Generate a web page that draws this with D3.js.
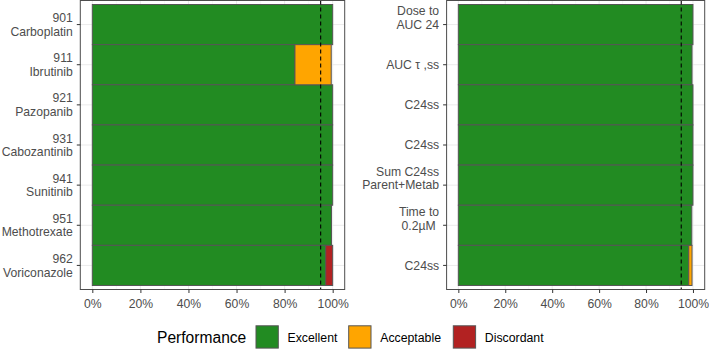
<!DOCTYPE html>
<html>
<head>
<meta charset="utf-8">
<script src="https://cdn.jsdelivr.net/npm/d3@7"></script>
<style>
  body { margin: 0; background: #fff; }
  svg { display: block; font-family: "Liberation Sans", Arial, sans-serif; }
</style>
</head>
<body>
<svg id="chart"></svg>
<script>
const width = 709, height = 349;

// Categories (tick labels, top to bottom)
const leftLabels = ["901\nCarboplatin", "911\nIbrutinib", "921\nPazopanib", "931\nCabozantinib",
                    "941\nSunitinib", "951\nMethotrexate", "962\nVoriconazole"];
const rightLabels = ["Dose to\nAUC 24\n", "AUC \u03c4 ,ss", "C24ss", "C24ss",
                     "Sum C24ss\nParent+Metab\n", "Time to\n0.2\u00b5M \n", "C24ss"];

// Percent of cases in each performance class
const leftExcellent  = [100, 84.3, 100, 100, 100, 99.5, 97.1];
const leftAcceptable = [0, 15.1, 0, 0, 0, 0, 0];
const leftDiscordant = [0, 0, 0, 0, 0, 0, 2.9];

const rightExcellent  = [100, 99.6, 100, 100, 100, 99.5, 98.2];
const rightAcceptable = [0, 0, 0, 0, 0, 0, 1.4];
const rightDiscordant = [0, 0, 0, 0, 0, 0, 0];

const performance = ["Excellent", "Acceptable", "Discordant"];
const perfColors = ["#228B22", "#FFA500", "#B22222"];
const xTicks = [0, 20, 40, 60, 80, 100];
const threshold = 95;

const svg = d3.select("#chart")
    .attr("width", width)
    .attr("height", height)
    .attr("viewBox", [0, 0, width, height]);

const color = d3.scaleOrdinal().domain(performance).range(perfColors);

function drawPanel(labels, excellent, acceptable, discordant, x0, x1) {
    const rows = labels.map((lab, i) => ({
        idx: i, Excellent: excellent[i], Acceptable: acceptable[i], Discordant: discordant[i]
    }));
    const stacked = d3.stack().keys(performance)(rows);

    const x = d3.scaleLinear().domain([-5, 105]).range([x0, x1]);
    const y = d3.scaleBand().domain(d3.range(labels.length))
        .range([0.5, 289.5]).paddingInner(0).paddingOuter(0.1);

    const g = svg.append("g");

    // panel background + grid
    g.append("rect").attr("x", x0).attr("y", 0.5).attr("width", x1 - x0).attr("height", 289)
        .attr("fill", "#fff");
    g.append("g").selectAll("line")
        .data(d3.range(10, 100, 20))
        .join("line")
        .attr("x1", d => x(d)).attr("x2", d => x(d))
        .attr("y1", 0.5).attr("y2", 289.5)
        .attr("stroke", "#f3f3f3").attr("stroke-width", 0.6);
    g.append("g").selectAll("line")
        .data(xTicks)
        .join("line")
        .attr("x1", d => x(d)).attr("x2", d => x(d))
        .attr("y1", 0.5).attr("y2", 289.5)
        .attr("stroke", "#ebebeb").attr("stroke-width", 1);
    g.append("g").selectAll("line")
        .data(d3.range(labels.length))
        .join("line")
        .attr("x1", x0).attr("x2", x1)
        .attr("y1", d => y(d) + y.bandwidth() / 2).attr("y2", d => y(d) + y.bandwidth() / 2)
        .attr("stroke", "#ebebeb").attr("stroke-width", 1);

    // stacked bars
    g.append("g").selectAll("g")
        .data(stacked)
        .join("g")
        .attr("fill", d => color(d.key))
        .selectAll("rect")
        .data(d => d.filter(s => s[1] - s[0] > 0))
        .join("rect")
        .attr("x", d => x(d[0]))
        .attr("width", d => x(d[1]) - x(d[0]))
        .attr("y", d => y(d.data.idx))
        .attr("height", y.bandwidth())
        .attr("stroke", "#555")
        .attr("stroke-width", 1);

    // 95% threshold
    g.append("line")
        .attr("x1", x(threshold)).attr("x2", x(threshold))
        .attr("y1", 0.5).attr("y2", 289.5)
        .attr("stroke", "#000").attr("stroke-width", 1.1)
        .attr("stroke-dasharray", "4,3");

    // panel border
    g.append("rect").attr("x", x0).attr("y", 0.5).attr("width", x1 - x0).attr("height", 289)
        .attr("fill", "none").attr("stroke", "#4d4d4d").attr("stroke-width", 1);

    // x axis
    const xAxis = g.append("g")
        .attr("transform", "translate(0,289.5)")
        .call(d3.axisBottom(x).tickValues(xTicks).tickFormat(d => d + "%").tickSize(3.5).tickPadding(3));
    xAxis.select(".domain").remove();
    xAxis.selectAll(".tick line").attr("stroke", "#333");
    xAxis.selectAll("text").attr("font-size", "12.2px").attr("fill", "#4d4d4d")
        .attr("font-family", "Liberation Sans, Arial, sans-serif").attr("dy", "0.95em");

    // y axis with multi-line labels
    const yAxis = g.append("g")
        .attr("transform", `translate(${x0},0)`)
        .call(d3.axisLeft(y).tickSize(3.5).tickFormat(""));
    yAxis.select(".domain").remove();
    yAxis.selectAll(".tick line").attr("stroke", "#333");
    yAxis.selectAll(".tick").each(function(d) {
        const lines = labels[d].split("\n");
        const n = lines.length;
        const t = d3.select(this).select("text")
            .attr("x", -7.5).attr("y", 0).attr("dy", null)
            .attr("font-size", "12.2px").attr("fill", "#4d4d4d")
            .attr("font-family", "Liberation Sans, Arial, sans-serif")
            .attr("text-anchor", "end")
            .style("white-space", "pre");
        lines.forEach((ln, i) => {
            t.append("tspan")
                .attr("x", -7.5)
                .attr("y", 4.3 + (i - (n - 1) / 2) * 13.6)
                .text(ln);
        });
    });
}

drawPanel(leftLabels, leftExcellent, leftAcceptable, leftDiscordant, 80.3, 344.7);
drawPanel(rightLabels, rightExcellent, rightAcceptable, rightDiscordant, 446.6, 704.7);

// legend
const legend = svg.append("g");
legend.append("text")
    .attr("x", 157).attr("y", 343.3)
    .attr("font-size", "15.6px").attr("fill", "#000")
    .text("Performance");

const keyX = [256, 348.7, 453.3];
performance.forEach((p, i) => {
    legend.append("rect")
        .attr("x", keyX[i]).attr("y", 325.8)
        .attr("width", 22.3).attr("height", 22.3)
        .attr("fill", color(p))
        .attr("stroke", "#555").attr("stroke-width", 1);
    legend.append("text")
        .attr("x", keyX[i] + 31.5).attr("y", 341.6)
        .attr("font-size", "12.3px").attr("fill", "#000")
        .text(p);
});
</script>
</body>
</html>
